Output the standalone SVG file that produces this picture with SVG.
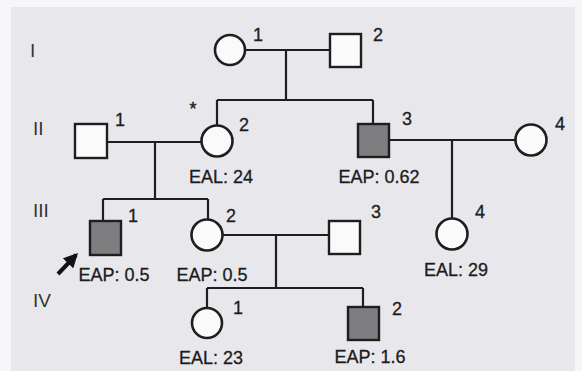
<svg xmlns="http://www.w3.org/2000/svg" width="582" height="371" viewBox="0 0 582 371">
<defs>
<style>
.ln{stroke:#1e1e1e;stroke-width:2.2;fill:none}
.f{fill:#fafafa;stroke:#1e1e1e;stroke-width:2.6}
.m{fill:#fafafa;stroke:#1e1e1e;stroke-width:2.4}
.a{fill:#7e7e80;stroke:#1e1e1e;stroke-width:2.4}
text{font-family:"Liberation Sans",Arial,sans-serif;fill:#1c1c1c}
.lb{font-size:18px;stroke:#1c1c1c;stroke-width:0.3}
.v{font-size:18px;text-anchor:middle;stroke:#1c1c1c;stroke-width:0.3}
.g{font-size:19px;fill:#333}
</style>
<marker id="ah" viewBox="0 0 10 10" refX="8" refY="5" markerWidth="3.6" markerHeight="3.6" orient="auto">
<path d="M0,0 L10,5 L0,10 z" fill="#111"/>
</marker>
</defs>
<rect x="0" y="0" width="582" height="371" fill="#f6f6f8"/>
<rect x="11" y="7" width="564" height="364" fill="#e8e8ec"/>
<g id="generations">
<text class="g" x="30" y="57">I</text>
<text class="g" x="33" y="135">II</text>
<text class="g" x="33" y="217">III</text>
<text class="g" x="33" y="307">IV</text>
</g>
<g id="connectors">
<path class="ln" d="M245,50 H330 M286,50 V100 M217,100 H373 M217,100 V126 M373,100 V124"/>
<path class="ln" d="M107,142 H201 M155,142 V199 M103,199 H208 M103,199 V221 M208,199 V219"/>
<path class="ln" d="M389,140 H515 M452,140 V219"/>
<path class="ln" d="M223,235 H329 M276,235 V288 M207,288 H363 M207,288 V308 M363,288 V306"/>
<path d="M58,274 L76,255" stroke="#111" stroke-width="4" marker-end="url(#ah)"/>
</g>
<g id="I-1"><circle class="f" cx="230" cy="50" r="15"/><text class="lb" x="253" y="41">1</text></g>
<g id="I-2"><rect class="m" x="330" y="34" width="31" height="33"/><text class="lb" x="373" y="41">2</text></g>
<g id="II-1"><rect class="m" x="75" y="124" width="32" height="34"/><text class="lb" x="115" y="126">1</text></g>
<g id="II-2"><circle class="f" cx="217" cy="141" r="15.5"/><text class="lb" x="239" y="131">2</text><text x="193" y="115" style="font-size:18px;text-anchor:middle;stroke:#1c1c1c;stroke-width:0.4">*</text><text class="v" x="221" y="183">EAL: 24</text></g>
<g id="II-3"><rect class="a" x="358" y="124" width="31" height="33"/><text class="lb" x="402" y="125">3</text><text class="v" x="379" y="183">EAP: 0.62</text></g>
<g id="II-4"><circle class="f" cx="531" cy="140" r="15.5"/><text class="lb" x="555" y="130">4</text></g>
<g id="III-1"><rect class="a" x="90" y="221" width="31" height="34"/><text class="lb" x="128" y="222">1</text><text class="v" x="114" y="281">EAP: 0.5</text></g>
<g id="III-2"><circle class="f" cx="207" cy="235" r="15.5"/><text class="lb" x="226" y="222">2</text><text class="v" x="212" y="281">EAP: 0.5</text></g>
<g id="III-3"><rect class="m" x="329" y="221" width="31" height="33"/><text class="lb" x="371" y="218">3</text></g>
<g id="III-4"><circle class="f" cx="452" cy="234" r="15.5"/><text class="lb" x="475" y="218">4</text><text class="v" x="456" y="276">EAL: 29</text></g>
<g id="IV-1"><circle class="f" cx="207" cy="323" r="15"/><text class="lb" x="233" y="314">1</text><text class="v" x="211" y="364">EAL: 23</text></g>
<g id="IV-2"><rect class="a" x="348" y="307" width="31" height="33"/><text class="lb" x="392" y="315">2</text><text class="v" x="370" y="363">EAP: 1.6</text></g>
</svg>
